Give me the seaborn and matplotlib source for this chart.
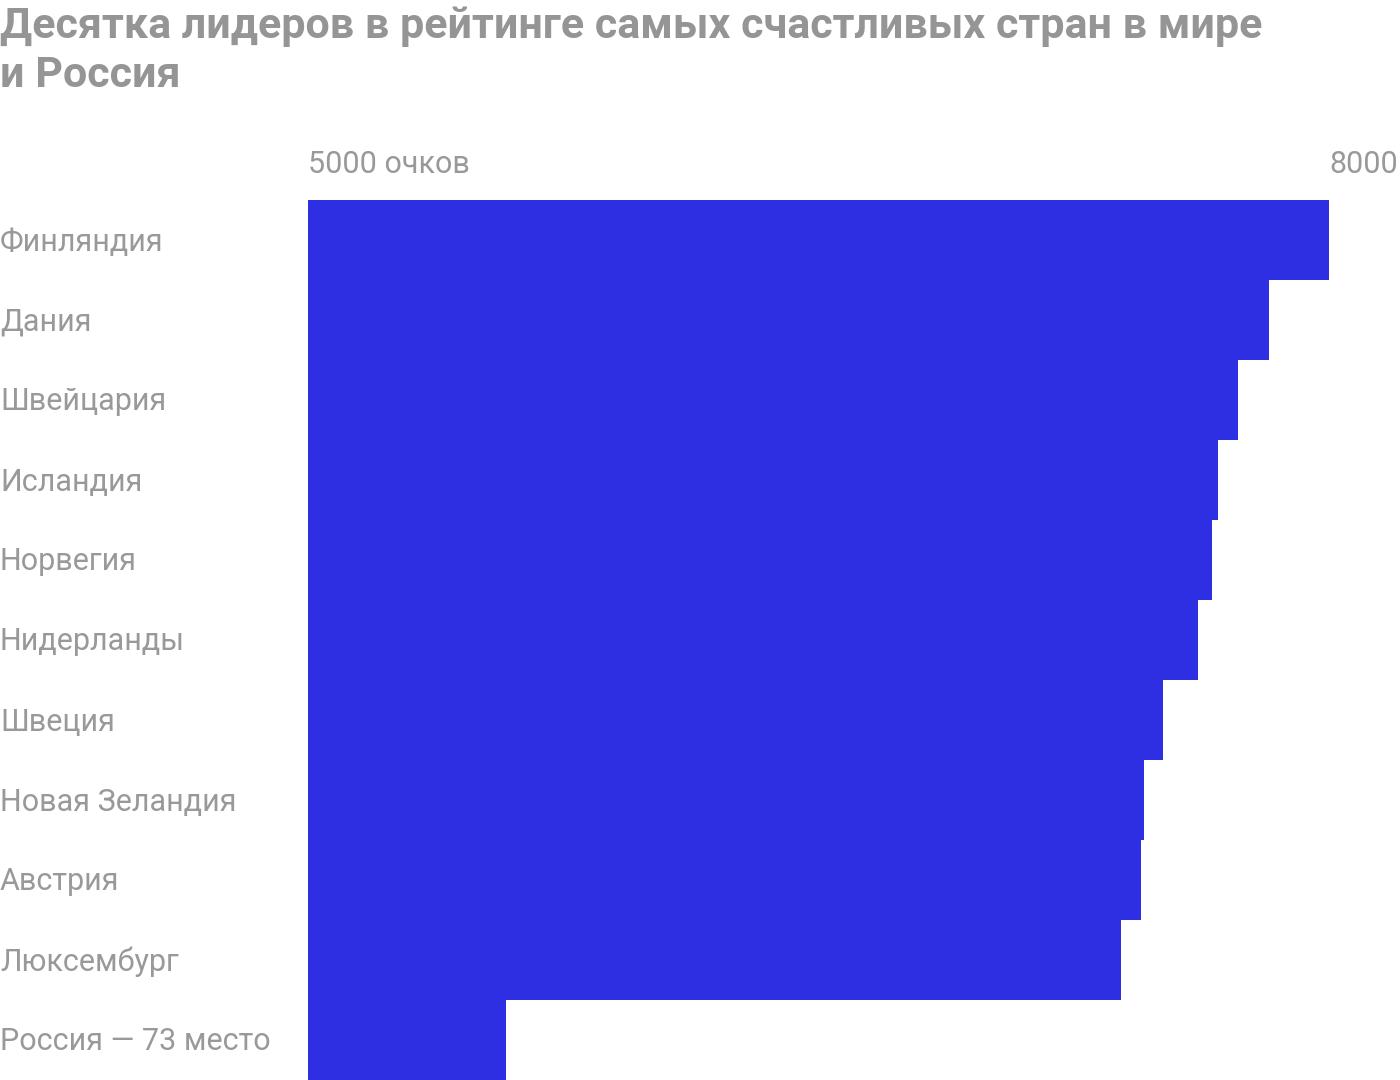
import matplotlib
matplotlib.use("Agg")
import matplotlib.pyplot as plt
import matplotlib.transforms as mtransforms
import seaborn as sns
import pandas as pd

# data (2020 happiness report scores, x1000)
countries = ['Финляндия', 'Дания', 'Швейцария', 'Исландия', 'Норвегия',
             'Нидерланды', 'Швеция', 'Новая Зеландия', 'Австрия',
             'Люксембург', 'Россия — 73 место']
scores = [7809, 7646, 7560, 7504, 7488, 7449, 7353, 7300, 7294, 7238, 5546]
x_ticks = [5000, 8000]
x_tick_labels = ['5000 очков', '8000']

title = 'Десятка лидеров в рейтинге самых счастливых стран в мире\nи Россия'

bar_color = '#2E2EE3'
grey = '#999999'

sns.set_theme(style='white')
plt.rcParams['font.family'] = ['Roboto', 'DejaVu Sans']

df = pd.DataFrame({'country': countries, 'score': scores})

fig = plt.figure(figsize=(14, 10.8), dpi=100)
ax = fig.add_axes([308 / 1400, 0, 1090 / 1400, 880 / 1080])

sns.barplot(data=df, x='score', y='country', orient='h', width=1.0,
            color=bar_color, saturation=1, linewidth=0, ax=ax)

ax.set_xlim(5000, 8000)
ax.set_ylim(len(countries) - 0.5, -0.5)
ax.set_xlabel('')
ax.set_ylabel('')
for s in ax.spines.values():
    s.set_visible(False)

# ticks on top
ax.xaxis.tick_top()
ax.set_xticks(x_ticks)
ax.set_xticklabels(x_tick_labels, fontsize=22, color=grey)
ax.tick_params(axis='x', length=0, pad=15)
tl = ax.get_xticklabels()
tl[0].set_ha('left')
tl[1].set_ha('right')

# country labels at the left edge of the figure
ax.set_yticks([])
trans = mtransforms.blended_transform_factory(fig.transFigure, ax.transData)
for i, c in enumerate(countries):
    ax.text(0.0, i + 0.025, c, transform=trans, ha='left', va='center',
            fontsize=22, color=grey)

fig.text(0.0, 1 - 6 / 1080, title, ha='left', va='top', fontsize=31,
         fontweight='bold', color='#959595', linespacing=1.25)

fig.savefig('out.png', dpi=100)
